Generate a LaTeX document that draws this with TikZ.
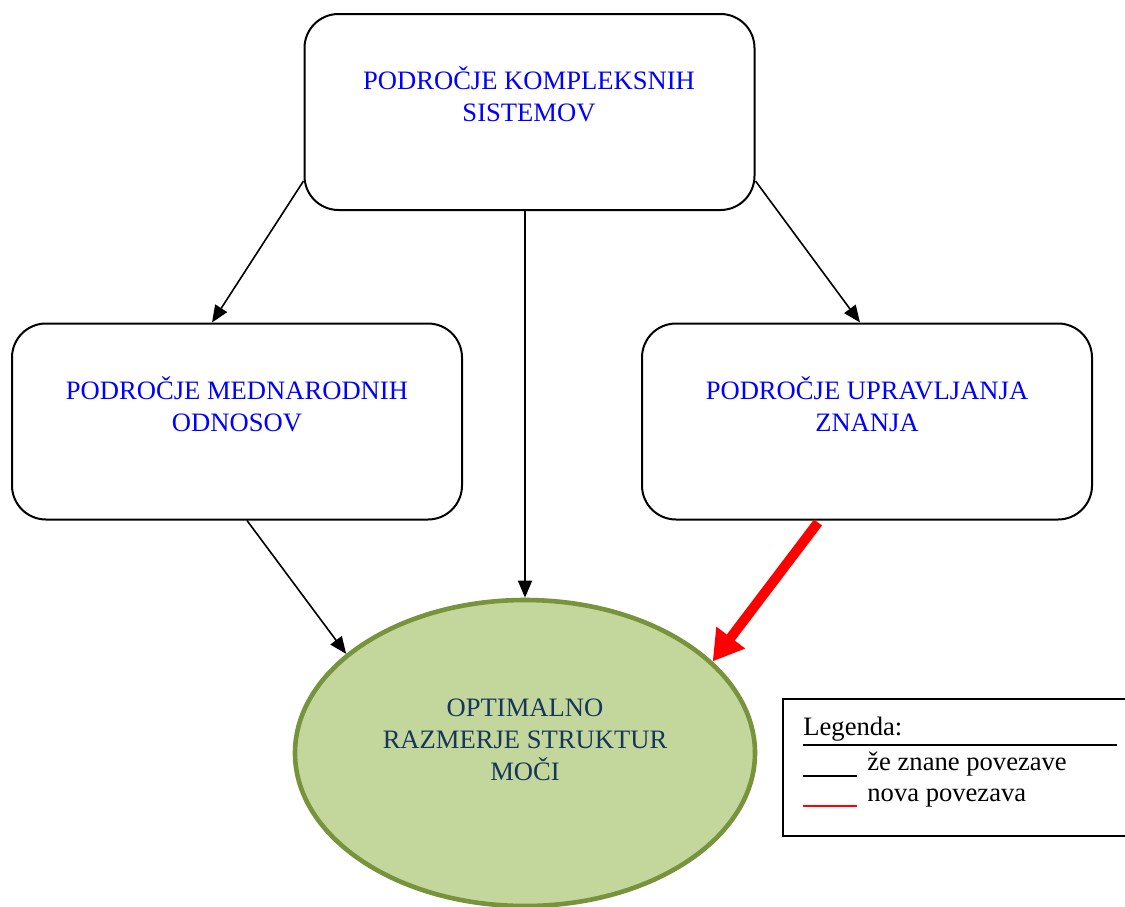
\documentclass[tikz,border=0pt]{standalone}
\usepackage{fontspec}
\setmainfont{Liberation Serif}
\usetikzlibrary{arrows.meta,shapes.geometric}
\definecolor{areablue}{RGB}{0,0,255}
\definecolor{goalfill}{RGB}{195,214,155}
\definecolor{goaldraw}{RGB}{119,147,60}
\definecolor{goaltext}{RGB}{23,54,93}
\definecolor{newlink}{RGB}{255,0,0}
\tikzset{
  area/.style={draw=black, line width=1pt, rounded corners=17pt,
    minimum width=225pt, minimum height=98pt, inner sep=0pt},
  areatext/.style={text=areablue, align=center, font=\fontsize{13.3}{16}\selectfont},
  goal/.style={ellipse, draw=goaldraw, fill=goalfill, line width=2.3pt,
    minimum width=230pt, minimum height=153pt, inner sep=0pt},
  known/.style={draw=black, line width=0.8pt, -{Triangle[length=8.5pt,width=7pt]}},
  fresh/.style={draw=newlink, line width=5pt, -{Triangle[length=15pt,width=17pt]}},
  legtext/.style={anchor=base west, inner sep=0pt, font=\fontsize{13.3}{16}\selectfont}
}
\begin{document}
\begin{tikzpicture}[x=0.5pt,y=-0.5pt]
  \useasboundingbox (0,0) rectangle (1125,906);

  % domain boxes
  \node[area] (top) at (529.5,112) {};
  \node[area] (left) at (237,421.5) {};
  \node[area] (right) at (867,421.5) {};
  \node[areatext] (toptext) at (529,94) {PODROČJE KOMPLEKSNIH\\SISTEMOV};
  \node[areatext] (lefttext) at (237,404) {PODROČJE MEDNARODNIH\\ODNOSOV};
  \node[areatext] (righttext) at (867,404) {PODROČJE UPRAVLJANJA\\ZNANJA};

  % target ellipse
  \node[goal] (goal) at (525,753) {};
  \node[text=goaltext, align=center, font=\fontsize{13.3}{16}\selectfont] (goaltxt) at (525,740)
    {OPTIMALNO\\RAZMERJE STRUKTUR\\MOČI};

  % known links
  \draw[known] ([yshift=15pt]top.south west) -- ([xshift=-12.5pt]left.north);
  \draw[known] ([yshift=15pt]top.south east) -- ([xshift=-3.5pt]right.north);
  \draw[known] ([xshift=-2.25pt]top.south) -- (goal.north);
  \draw[known] ([xshift=5pt]left.south) -- (goal.151);
  % new link
  \draw[fresh] ([xshift=-24.5pt,yshift=-1pt]right.south) -- (goal.26);

  % legend
  \node[draw=black, line width=1pt, minimum width=175pt, minimum height=68.5pt, inner sep=0pt,
    anchor=north west] (legend) at (782,698) {};
  \node[legtext] (legtitle) at (803,735) {Legenda:};
  \coordinate (sepl) at (803,745);
  \coordinate (sepr) at (1117,745);
  \draw[line width=1.2pt] (sepl) -- (sepr);
  \coordinate (ka) at (803,776);
  \coordinate (kb) at (857,776);
  \coordinate (na) at (803,806);
  \coordinate (nb) at (857,806);
  \draw[line width=0.8pt] (ka) -- (kb);
  \draw[newlink, line width=0.8pt] (na) -- (nb);
  \node[legtext] (knowntxt) at (867,770) {že znane povezave};
  \node[legtext] (newtxt) at (867,801) {nova povezava};
\end{tikzpicture}
\end{document}
